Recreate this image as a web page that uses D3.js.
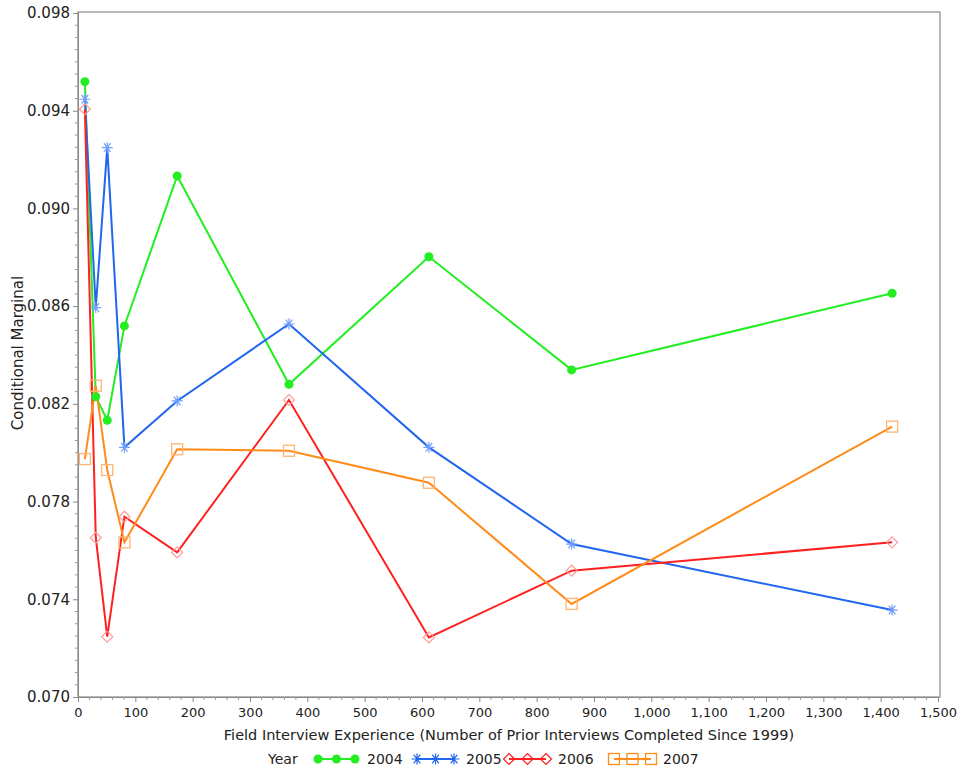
<!DOCTYPE html>
<html>
<head>
<meta charset="utf-8">
<script src="https://cdn.jsdelivr.net/npm/d3@7"></script>
<style>
body{margin:0;background:#fff;}
svg{display:block;font-family:"DejaVu Sans",sans-serif;}
</style>
</head>
<body>
<svg id="chart" width="963" height="774"></svg>
<script>
const experience = [12, 31, 51, 81, 173, 368, 612, 861, 1420];
const years = ["2004", "2005", "2006", "2007"];
const y2004 = [0.09519, 0.08229, 0.08133, 0.08519, 0.09133, 0.08280, 0.08802, 0.08339, 0.08653];
const y2005 = [0.09447, 0.08594, 0.09249, 0.08022, 0.08212, 0.08527, 0.08022, 0.07626, 0.07356];
const y2006 = [0.09406, 0.07652, 0.07247, 0.07738, 0.07592, 0.08216, 0.07244, 0.07517, 0.07633];
const y2007 = [0.07974, 0.08274, 0.07929, 0.07633, 0.08014, 0.08008, 0.07877, 0.07381, 0.08107];
const xTicks = [0,100,200,300,400,500,600,700,800,900,1000,1100,1200,1300,1400,1500];
const yTicks = [0.070,0.074,0.078,0.082,0.086,0.090,0.094,0.098];
const xTitle = "Field Interview Experience (Number of Prior Interviews Completed Since 1999)";
const yTitle = "Conditional Marginal";
const legendTitle = "Year";

const seriesData = [y2004, y2005, y2006, y2007];
const lineColors = ["#22ee22", "#2266ee", "#ff2020", "#ff8c1a"];
const markColors = ["#22ee22", "#6f9cff", "#ff9a9a", "#ffb570"];
const symbols = ["circle", "star", "diamond", "square"];

const svg = d3.select("#chart");
const L = 78, R = 940, T = 12, B = 697;
const x = d3.scaleLinear().domain([0,1500]).range([L, 938]);
const y = d3.scaleLinear().domain([0.070,0.098]).range([B, 13]);

// frame
svg.append("rect").attr("x",L).attr("y",T).attr("width",R-L).attr("height",B-T)
  .attr("fill","none").attr("stroke","#a0a0a0").attr("stroke-width",1.5);

// axes
const xAxis = d3.axisBottom(x).tickValues(xTicks).tickSize(5).tickFormat(d3.format(","));
const gx = svg.append("g").attr("transform",`translate(0,${B})`).call(xAxis);
gx.attr("font-size",null).attr("font-family",null);
gx.select(".domain").attr("stroke","#888");
gx.selectAll(".tick line").attr("stroke","#888");
gx.selectAll("text").style("font-size","13px").attr("fill","#222").attr("dy","0.9em");
const xMinor = d3.range(0,1501,20).filter(v=>v%100!==0);
svg.append("g").selectAll("line").data(xMinor).join("line")
  .attr("x1",d=>x(d)).attr("x2",d=>x(d)).attr("y1",B).attr("y2",B+3).attr("stroke","#999");

const yAxis = d3.axisLeft(y).tickValues(yTicks).tickSize(5).tickFormat(d3.format(".3f"));
const gy = svg.append("g").attr("transform",`translate(${L},0)`).call(yAxis);
gy.attr("font-size",null).attr("font-family",null);
gy.select(".domain").attr("stroke","#888");
gy.selectAll(".tick line").attr("stroke","#888");
gy.selectAll("text").style("font-size","15px").attr("fill","#222");
const yMinor = d3.range(0,57).map(i=>0.070+i*0.0005).filter((v,i)=>i%8!==0);
svg.append("g").selectAll("line").data(yMinor).join("line")
  .attr("x1",L-3).attr("x2",L).attr("y1",d=>y(d)).attr("y2",d=>y(d)).attr("stroke","#999");

// titles
svg.append("text").attr("x",509).attr("y",740).attr("text-anchor","middle")
  .style("font-size","14.5px").attr("fill","#222").text(xTitle);
svg.append("text").attr("transform",`translate(23,353) rotate(-90)`).attr("text-anchor","middle")
  .style("font-size","15px").attr("fill","#222").text(yTitle);

function drawMarker(g, type, cx, cy, color){
  if(type==="circle"){
    g.append("circle").attr("cx",cx).attr("cy",cy).attr("r",4.5).attr("fill",color);
  } else if(type==="star"){
    const s=5.5;
    g.append("path").attr("d",`M${cx-s},${cy}H${cx+s}M${cx-s*0.6},${cy-s*0.8}L${cx+s*0.6},${cy+s*0.8}M${cx-s*0.6},${cy+s*0.8}L${cx+s*0.6},${cy-s*0.8}M${cx},${cy-s}V${cy+s}`)
      .attr("stroke",color).attr("stroke-width",1.2).attr("fill","none");
  } else if(type==="diamond"){
    const s=5.5;
    g.append("path").attr("d",`M${cx},${cy-s}L${cx+s},${cy}L${cx},${cy+s}L${cx-s},${cy}Z`)
      .attr("stroke",color).attr("stroke-width",1.2).attr("fill","none");
  } else {
    const s=5.5;
    g.append("rect").attr("x",cx-s).attr("y",cy-s).attr("width",2*s).attr("height",2*s)
      .attr("stroke",color).attr("stroke-width",1.3).attr("fill","none");
  }
}

const line = d3.line().x(d=>x(d[0])).y(d=>y(d[1]));
seriesData.forEach((vals,i)=>{
  const pts = experience.map((e,j)=>[e, vals[j]]);
  svg.append("path").datum(pts).attr("d",line).attr("fill","none")
    .attr("stroke",lineColors[i]).attr("stroke-width",2);
});
seriesData.forEach((vals,i)=>{
  const g = svg.append("g");
  experience.forEach((e,j)=>drawMarker(g, symbols[i], x(e), y(vals[j]), markColors[i]));
});

// legend
const ly = 759;
svg.append("text").attr("x",268).attr("y",ly).attr("dy","0.35em").style("font-size","14px").attr("fill","#222").text(legendTitle);
const legX = [318, 417, 509, 614];
years.forEach((yr,i)=>{
  const g = svg.append("g");
  const x0 = legX[i], w = 37;
  g.append("line").attr("x1",x0).attr("x2",x0+w).attr("y1",ly).attr("y2",ly).attr("stroke",lineColors[i]).attr("stroke-width",2);
  [0,0.5,1].forEach(f=>drawMarker(g, symbols[i], x0+f*w, ly, lineColors[i]));
  g.append("text").attr("x",x0+w+12).attr("y",ly).attr("dy","0.35em").style("font-size","14px").attr("fill","#222").text(yr);
});
</script>
</body>
</html>
